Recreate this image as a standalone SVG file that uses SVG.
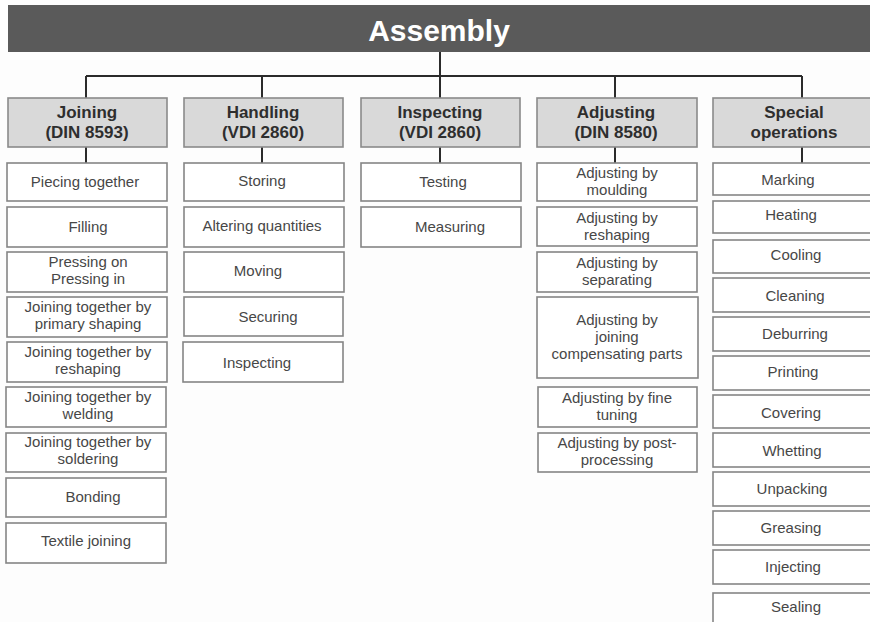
<svg xmlns="http://www.w3.org/2000/svg" width="870" height="622" viewBox="0 0 870 622">
  <style>
    .bg { fill: #fdfdfd; }
    .title-bar { fill: #5a5a5a; }
    .title { font-family: "Liberation Sans", Arial, sans-serif; font-weight: bold; font-size: 30px; fill: #ffffff; text-anchor: middle; }
    .hdr { fill: #d9d9d9; stroke: #8a8a8a; stroke-width: 1.6; }
    .hdr-t { font-family: "Liberation Sans", Arial, sans-serif; font-weight: bold; font-size: 17px; fill: #2e2e2e; text-anchor: middle; }
    .box { fill: #ffffff; stroke: #858585; stroke-width: 1.6; }
    .lbl { font-family: "Liberation Sans", Arial, sans-serif; font-size: 15px; fill: #474747; text-anchor: middle; }
    .conn { stroke: #2b2b2b; stroke-width: 2; fill: none; }
  </style>

  <rect class="bg" x="0" y="0" width="870" height="622"/>

  <!-- top banner -->
  <g id="assembly">
    <rect class="title-bar" x="8" y="5" width="862" height="47"/>
    <text class="title" x="439" y="41">Assembly</text>
  </g>

  <!-- tree connectors -->
  <g id="connectors">
    <path class="conn" d="M440 52 V76 M86 76 H802 M86 76 V98 M262 76 V98 M440 76 V98 M615 76 V98 M802 76 V98"/>
    <path class="conn" d="M86 147 V163 M262 147 V163 M440 147 V163 M615 147 V163 M802 147 V163"/>
  </g>

  <!-- category headers -->
  <g id="hdr-joining">
    <rect class="hdr" x="8" y="98" width="159" height="49"/>
    <text class="hdr-t" x="87" y="118">Joining</text>
    <text class="hdr-t" x="87" y="138">(DIN 8593)</text>
  </g>
  <g id="hdr-handling">
    <rect class="hdr" x="184" y="98" width="159" height="49"/>
    <text class="hdr-t" x="263" y="118">Handling</text>
    <text class="hdr-t" x="263" y="138">(VDI 2860)</text>
  </g>
  <g id="hdr-inspecting">
    <rect class="hdr" x="361" y="98" width="159" height="49"/>
    <text class="hdr-t" x="440" y="118">Inspecting</text>
    <text class="hdr-t" x="440" y="138">(VDI 2860)</text>
  </g>
  <g id="hdr-adjusting">
    <rect class="hdr" x="537" y="98" width="160" height="49"/>
    <text class="hdr-t" x="616" y="118">Adjusting</text>
    <text class="hdr-t" x="616" y="138">(DIN 8580)</text>
  </g>
  <g id="hdr-special">
    <rect class="hdr" x="713" y="98" width="162" height="49"/>
    <text class="hdr-t" x="794" y="118">Special</text>
    <text class="hdr-t" x="794" y="138">operations</text>
  </g>

  <!-- Joining -->
  <g id="j1"><rect class="box" x="7" y="163" width="160" height="38"/><text class="lbl" x="85" y="187">Piecing together</text></g>
  <g id="j2"><rect class="box" x="7" y="207" width="160" height="40"/><text class="lbl" x="88" y="232">Filling</text></g>
  <g id="j3"><rect class="box" x="7" y="252" width="160" height="40"/><text class="lbl" x="88" y="267">Pressing on</text><text class="lbl" x="88" y="284">Pressing in</text></g>
  <g id="j4"><rect class="box" x="7" y="297" width="160" height="40"/><text class="lbl" x="88" y="312">Joining together by</text><text class="lbl" x="88" y="329">primary shaping</text></g>
  <g id="j5"><rect class="box" x="7" y="342" width="160" height="40"/><text class="lbl" x="88" y="357">Joining together by</text><text class="lbl" x="88" y="374">reshaping</text></g>
  <g id="j6"><rect class="box" x="6" y="387" width="160" height="40"/><text class="lbl" x="88" y="402">Joining together by</text><text class="lbl" x="88" y="419">welding</text></g>
  <g id="j7"><rect class="box" x="6" y="433" width="160" height="39"/><text class="lbl" x="88" y="447">Joining together by</text><text class="lbl" x="88" y="464">soldering</text></g>
  <g id="j8"><rect class="box" x="6" y="478" width="160" height="39"/><text class="lbl" x="93" y="502">Bonding</text></g>
  <g id="j9"><rect class="box" x="6" y="523" width="160" height="40"/><text class="lbl" x="86" y="546">Textile joining</text></g>

  <!-- Handling -->
  <g id="h1"><rect class="box" x="184" y="163" width="160" height="38"/><text class="lbl" x="262" y="186">Storing</text></g>
  <g id="h2"><rect class="box" x="184" y="207" width="160" height="40"/><text class="lbl" x="262" y="231">Altering quantities</text></g>
  <g id="h3"><rect class="box" x="184" y="252" width="160" height="40"/><text class="lbl" x="258" y="276">Moving</text></g>
  <g id="h4"><rect class="box" x="184" y="297" width="159" height="39"/><text class="lbl" x="268" y="322">Securing</text></g>
  <g id="h5"><rect class="box" x="183" y="342" width="160" height="40"/><text class="lbl" x="257" y="368">Inspecting</text></g>

  <!-- Inspecting -->
  <g id="i1"><rect class="box" x="361" y="163" width="160" height="38"/><text class="lbl" x="443" y="187">Testing</text></g>
  <g id="i2"><rect class="box" x="361" y="207" width="160" height="40"/><text class="lbl" x="450" y="232">Measuring</text></g>

  <!-- Adjusting -->
  <g id="a1"><rect class="box" x="537" y="163" width="160" height="38"/><text class="lbl" x="617" y="178">Adjusting by</text><text class="lbl" x="617" y="195">moulding</text></g>
  <g id="a2"><rect class="box" x="537" y="207" width="160" height="39"/><text class="lbl" x="617" y="223">Adjusting by</text><text class="lbl" x="617" y="240">reshaping</text></g>
  <g id="a3"><rect class="box" x="537" y="252" width="160" height="40"/><text class="lbl" x="617" y="268">Adjusting by</text><text class="lbl" x="617" y="285">separating</text></g>
  <g id="a4"><rect class="box" x="537" y="297" width="161" height="81"/><text class="lbl" x="617" y="325">Adjusting by</text><text class="lbl" x="617" y="342">joining</text><text class="lbl" x="617" y="359">compensating parts</text></g>
  <g id="a5"><rect class="box" x="538" y="387" width="159" height="40"/><text class="lbl" x="617" y="403">Adjusting by fine</text><text class="lbl" x="617" y="420">tuning</text></g>
  <g id="a6"><rect class="box" x="538" y="433" width="159" height="39"/><text class="lbl" x="617" y="448">Adjusting by post-</text><text class="lbl" x="617" y="465">processing</text></g>

  <!-- Special operations -->
  <g id="s1"><rect class="box" x="713" y="163" width="162" height="32"/><text class="lbl" x="788" y="185">Marking</text></g>
  <g id="s2"><rect class="box" x="713" y="201" width="162" height="32"/><text class="lbl" x="791" y="220">Heating</text></g>
  <g id="s3"><rect class="box" x="713" y="240" width="162" height="33"/><text class="lbl" x="796" y="260">Cooling</text></g>
  <g id="s4"><rect class="box" x="713" y="278" width="162" height="34"/><text class="lbl" x="795" y="301">Cleaning</text></g>
  <g id="s5"><rect class="box" x="713" y="317" width="162" height="34"/><text class="lbl" x="795" y="339">Deburring</text></g>
  <g id="s6"><rect class="box" x="713" y="356" width="162" height="34"/><text class="lbl" x="793" y="377">Printing</text></g>
  <g id="s7"><rect class="box" x="713" y="395" width="162" height="33"/><text class="lbl" x="791" y="418">Covering</text></g>
  <g id="s8"><rect class="box" x="713" y="433" width="162" height="34"/><text class="lbl" x="792" y="456">Whetting</text></g>
  <g id="s9"><rect class="box" x="713" y="472" width="162" height="34"/><text class="lbl" x="792" y="494">Unpacking</text></g>
  <g id="s10"><rect class="box" x="713" y="511" width="162" height="34"/><text class="lbl" x="791" y="533">Greasing</text></g>
  <g id="s11"><rect class="box" x="713" y="550" width="162" height="34"/><text class="lbl" x="793" y="572">Injecting</text></g>
  <g id="s12"><rect class="box" x="713" y="593" width="162" height="34"/><text class="lbl" x="796" y="612">Sealing</text></g>
</svg>
